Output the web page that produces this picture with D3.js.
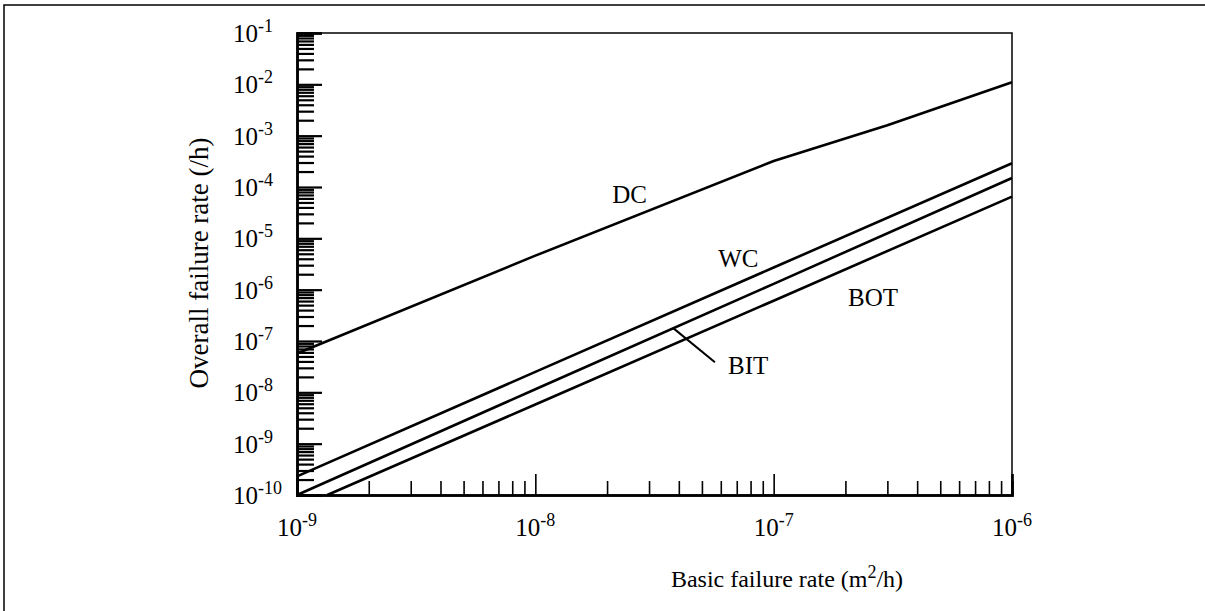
<!DOCTYPE html>
<html>
<head>
<meta charset="utf-8">
<script src="https://cdn.jsdelivr.net/npm/d3@7"></script>
<style>
  body { margin: 0; background: #fff; }
  text { font-family: "Liberation Serif", "Times New Roman", serif; fill: #000; }
</style>
</head>
<body>
<div id="chart"></div>
<script>
// data
var dcX = [1e-9, 1e-8, 1e-7, 3e-7, 1e-6];
var dcY = [5.7e-8, 4.6e-6, 3.2e-4, 1.6e-3, 1.1e-2];
var wcX = [1e-9, 1e-8, 1e-7, 1e-6];
var wcY = [2.3e-10, 2.5e-8, 2.7e-6, 2.9e-4];
var bitX = [1e-9, 1e-8, 1e-7, 1e-6];
var bitY = [1.0e-10, 1.15e-8, 1.3e-6, 1.5e-4];
var botX = [1.34e-9, 1e-8, 1e-7, 1e-6];
var botY = [1.0e-10, 5.8e-9, 6.1e-7, 6.5e-5];

var xTickExp = [-9, -8, -7, -6];
var yTickExp = [-1, -2, -3, -4, -5, -6, -7, -8, -9, -10];

// curve labels, anchored in data units
var labelNames = ["DC", "WC", "BIT", "BOT"];
var labelX = [2.1e-8, 5.85e-8, 6.44e-8, 2.05e-7];
var labelY = [4.96e-5, 2.82e-6, 2.25e-8, 4.71e-7];
// leader from BIT curve to its label
var leaderX = [3.79e-8, 5.67e-8];
var leaderY = [1.78e-7, 3.85e-8];

var width = 1205, height = 611;
var margin = {left: 297, right: 193, top: 33, bottom: 116};

var svg = d3.select("#chart").append("svg")
    .attr("width", width)
    .attr("height", height);

// outer frame (top and left only)
svg.append("path")
    .attr("d", "M4,611 L4,5 L1205,5")
    .attr("fill", "none")
    .attr("stroke", "#000")
    .attr("stroke-width", 1.5);

var x = d3.scaleLog()
    .domain([1e-9, 1e-6])
    .range([margin.left, width - margin.right]);
var y = d3.scaleLog()
    .domain([1e-10, 1e-1])
    .range([height - margin.bottom, margin.top]);

// minor tick values
var xMinor = [], yMinor = [];
d3.range(-9, -6).forEach(function (e) {
    for (var k = 2; k <= 9; k++) xMinor.push(k * Math.pow(10, e));
});
d3.range(-10, -1).forEach(function (e) {
    for (var k = 2; k <= 9; k++) yMinor.push(k * Math.pow(10, e));
});

var g = svg.append("g");

// plot box top and right edges
g.append("path")
    .attr("d", "M" + x(1e-9) + "," + y(1e-1) + " L" + x(1e-6) + "," + y(1e-1) + " L" + x(1e-6) + "," + y(1e-10))
    .attr("fill", "none")
    .attr("stroke", "#000")
    .attr("stroke-width", 1.5);

// y axis: ticks point inward
var yMinorAxis = d3.axisLeft(y).tickValues(yMinor).tickSize(-17).tickFormat("");
var yMajorAxis = d3.axisLeft(y).tickValues(yTickExp.map(function (e) { return Math.pow(10, e); }))
    .tickSize(-25).tickFormat("");
var xMinorAxis = d3.axisBottom(x).tickValues(xMinor).tickSize(-14).tickFormat("");
var xMajorAxis = d3.axisBottom(x).tickValues(xTickExp.map(function (e) { return Math.pow(10, e); }))
    .tickSize(-21).tickFormat("");

[yMinorAxis, yMajorAxis].forEach(function (ax) {
    g.append("g")
        .attr("transform", "translate(" + margin.left + ",0)")
        .call(ax)
        .call(function (s) {
            s.select(".domain").attr("stroke-width", 2.5);
            s.selectAll(".tick line").attr("stroke-width", 2.2);
        });
});
[xMinorAxis, xMajorAxis].forEach(function (ax) {
    g.append("g")
        .attr("transform", "translate(0," + (height - margin.bottom) + ")")
        .call(ax)
        .call(function (s) {
            s.select(".domain").attr("stroke-width", 2.5);
            s.selectAll(".tick line").attr("stroke-width", 1.6);
        });
});

// tick labels with superscript exponents
yTickExp.forEach(function (e) {
    var t = svg.append("text")
        .attr("x", 233)
        .attr("y", y(Math.pow(10, e)) + 9)
        .attr("font-size", 25);
    t.append("tspan").text("10");
    t.append("tspan").attr("dy", -10).attr("font-size", 18).text(e);
});
xTickExp.forEach(function (e) {
    var t = svg.append("text")
        .attr("x", x(Math.pow(10, e)))
        .attr("y", 536)
        .attr("text-anchor", "middle")
        .attr("font-size", 25);
    t.append("tspan").text("10");
    t.append("tspan").attr("dy", -10).attr("font-size", 18).text(e);
});

// axis titles
var xt = svg.append("text")
    .attr("x", 787)
    .attr("y", 587)
    .attr("text-anchor", "middle")
    .attr("font-size", 24);
xt.append("tspan").text("Basic failure rate (m");
xt.append("tspan").attr("dy", -9).attr("font-size", 18).text("2");
xt.append("tspan").attr("dy", 9).text("/h)");

var yt = svg.append("text")
    .attr("transform", "translate(208,263) rotate(-90)")
    .attr("text-anchor", "middle")
    .attr("font-size", 27);
yt.append("tspan").text("Overall failure rate (/h)");

// curves
var line = d3.line()
    .x(function (d) { return x(d[0]); })
    .y(function (d) { return y(d[1]); });

var series = [[dcX, dcY], [wcX, wcY], [bitX, bitY], [botX, botY]];
series.forEach(function (s) {
    g.append("path")
        .datum(d3.zip(s[0], s[1]))
        .attr("d", line)
        .attr("fill", "none")
        .attr("stroke", "#000")
        .attr("stroke-width", 2.6)
        .attr("stroke-linejoin", "round");
});

// leader line for BIT
g.append("path")
    .datum(d3.zip(leaderX, leaderY))
    .attr("d", line)
    .attr("fill", "none")
    .attr("stroke", "#000")
    .attr("stroke-width", 2);

labelNames.forEach(function (n, i) {
    svg.append("text")
        .attr("x", x(labelX[i]))
        .attr("y", y(labelY[i]))
        .attr("font-size", 25)
        .text(n);
});
</script>
</body>
</html>
